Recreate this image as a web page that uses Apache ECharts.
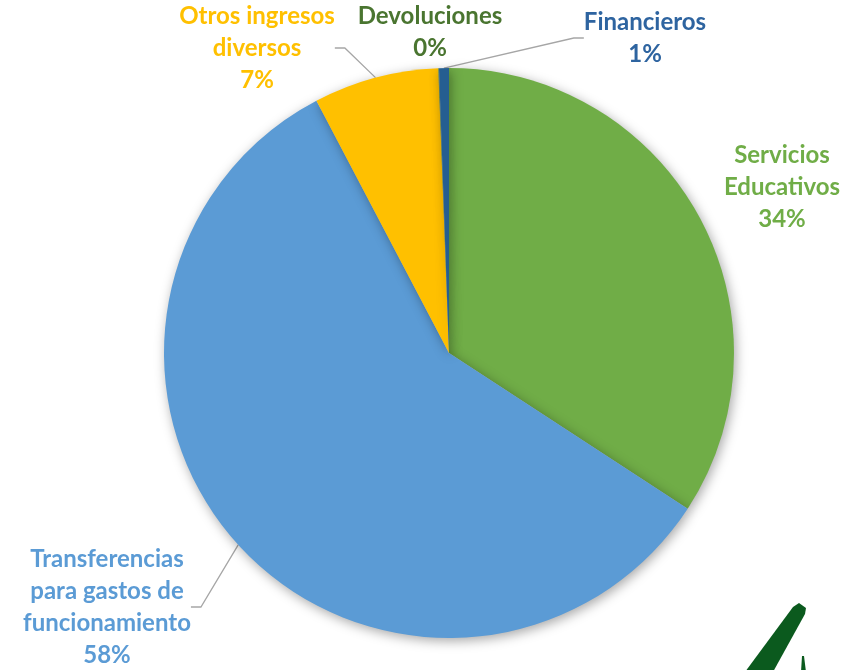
<!DOCTYPE html>
<html>
<head>
<meta charset="utf-8">
<script src="https://cdn.jsdelivr.net/npm/echarts@6/dist/echarts.min.js"></script>
<style>
  html, body { margin: 0; padding: 0; background: #fff; }
  #chart { width: 860px; height: 670px; }
</style>
</head>
<body>
<div id="chart"></div>
<script>
// categorias y valores (% del total de ingresos)
const categories = [
  'Servicios\nEducativos',
  'Transferencias\npara gastos de\nfuncionamiento',
  'Otros ingresos\ndiversos',
  'Devoluciones',
  'Financieros'
];
const values = [34.2, 58.1, 7.1, 0.04, 0.56];

const sliceColors = ['#70AD47', '#5B9BD5', '#FFC000', '#548235', '#255E91'];
const labelColors = ['#70AD47', '#5B9BD5', '#FFC000', '#4A7530', '#2E64A0'];
// centro de cada etiqueta
const labelSpots = [[782, 187], [107, 607], [257, 48], [430, 32], [645, 38]];

const chart = echarts.init(document.getElementById('chart'));

const pieData = categories.map((name, i) => ({
  name: name,
  value: values[i],
  itemStyle: { color: sliceColors[i] },
  label: { color: labelColors[i] },
  labelLine: { show: i !== 0 && i !== 3 }
}));

const option = {
  animation: false,
  series: [
    {
      type: 'pie',
      center: [449, 353],
      radius: 285,
      startAngle: 90,
      clockwise: true,
      percentPrecision: 1,
      avoidLabelOverlap: false,
      data: pieData,
      itemStyle: {
        shadowBlur: 12,
        shadowColor: 'rgba(0,0,0,0.35)',
        shadowOffsetX: 2,
        shadowOffsetY: 3
      },
      label: {
        show: true,
        position: 'outside',
        fontFamily: 'Lato',
        fontWeight: 'bold',
        fontSize: 24,
        lineHeight: 32,
        align: 'center',
        formatter: p => p.name + '\n' + Math.round(p.percent) + '%'
      },
      labelLine: {
        show: true,
        length: 20,
        length2: 10,
        lineStyle: { color: '#A6A6A6', width: 1.3 }
      },
      labelLayout: function (params) {
        const s = labelSpots[params.dataIndex];
        return { x: s[0], y: s[1], align: 'center', verticalAlign: 'middle' };
      }
    }
  ],
  graphic: [
    {
      type: 'polygon',
      shape: { points: [[793, 607], [799, 603], [806, 608], [805, 614], [773, 672], [745, 672]] },
      style: { fill: '#0B5A1E' },
      z: 10
    },
    {
      type: 'polygon',
      shape: { points: [[801, 672], [802, 656], [804, 656], [806, 672]] },
      style: { fill: '#0B5A1E' },
      z: 10
    }
  ]
};

chart.setOption(option);
window.addEventListener('resize', () => chart.resize());
</script>
</body>
</html>
